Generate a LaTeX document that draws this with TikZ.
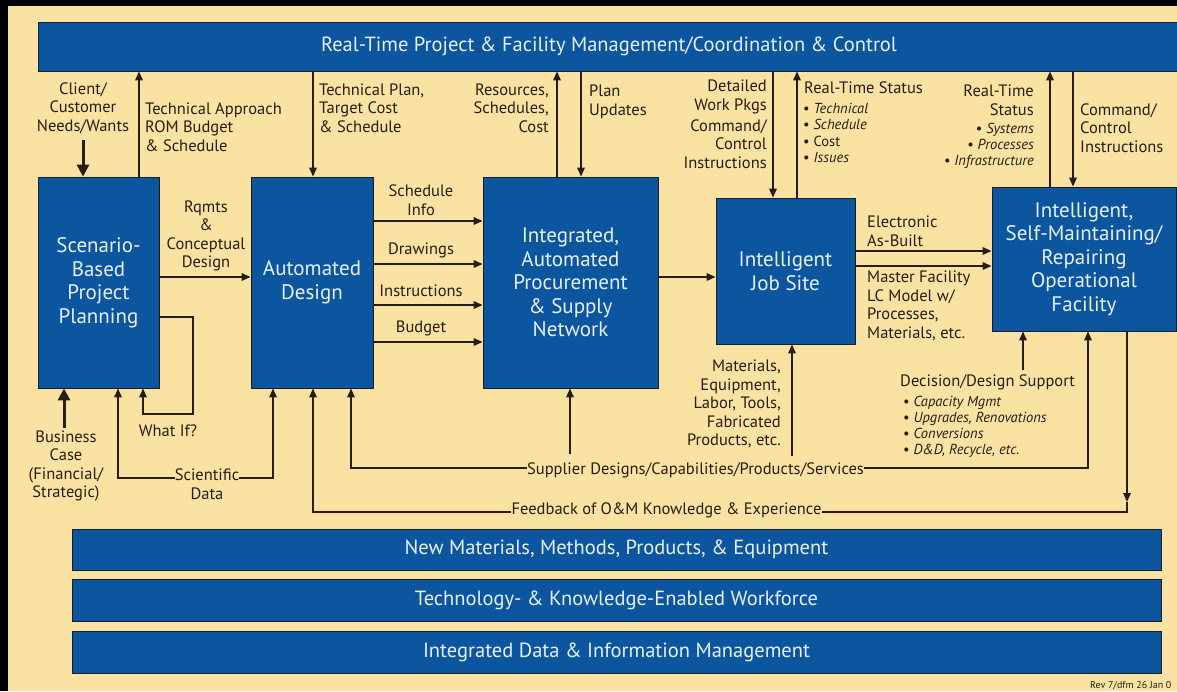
\documentclass[tikz,border=0pt]{standalone}
\usepackage{fontspec}
\setmainfont{PT Sans}
\usetikzlibrary{arrows.meta}
\definecolor{bg}{RGB}{250,226,162}
\definecolor{boxblue}{RGB}{12,86,160}
\definecolor{boxline}{RGB}{20,30,45}
\definecolor{boxtext}{RGB}{232,240,248}
\definecolor{ink}{RGB}{38,30,22}
\newcommand\mfBox{\fontsize{21}{23.5}\selectfont}
\newcommand\mfLbl{\fontsize{16.5}{18.6}\selectfont}
\newcommand\mfBul{\fontsize{14.5}{16.2}\selectfont}
\newcommand\mfBar{\fontsize{20.5}{23}\selectfont}
\newcommand\bul{\textbullet\ }
\tikzset{
  box/.style={draw=boxline, line width=0.8pt, fill=boxblue, text=boxtext, inner sep=0pt, align=center, font=\mfBox},
  bar/.style={box, font=\mfBar},
  lbl/.style={text=ink, inner sep=0pt, font=\mfLbl},
  bl/.style={text=ink, inner sep=0pt, font=\mfBul},
  conn/.style={draw=ink, line width=1.7pt},
  arr/.style={conn, -{Triangle[length=9pt,width=7.5pt]}},
  thickarr/.style={draw=ink, line width=3pt, -{Triangle[length=12pt,width=12pt]}},
}
\begin{document}
\begin{tikzpicture}[x=1pt,y=-1pt]
\useasboundingbox (0,0) rectangle (1177,691);
\fill[black] (0,0) rectangle (1177,691);
\fill[bg] (8,6) rectangle (1177,691);

% main boxes
\node[bar, minimum width=1142, minimum height=49] (top) at (609,46.5) {Real-Time Project \& Facility Management/Coordination \& Control};
\node[box, minimum width=121, minimum height=211] (b1) at (98.5,282.5) {Scenario-\\Based\\Project\\Planning};
\node[box, minimum width=122, minimum height=211] (b2) at (312,282.5) {Automated\\Design};
\node[box, minimum width=175, minimum height=211] (b3) at (570.5,282.5) {Integrated,\\Automated\\Procurement\\\& Supply\\Network};
\node[box, minimum width=139, minimum height=146] (b4) at (785.5,271) {Intelligent\\Job Site};
\node[box, minimum width=184, minimum height=144] (b5) at (1084,259) {Intelligent,\\Self-Maintaining/\\Repairing\\Operational\\Facility};
\node[bar, minimum width=1089, minimum height=41] (n1) at (616.5,549.5) {New Materials, Methods, Products, \& Equipment};
\node[bar, minimum width=1089, minimum height=42] (n2) at (616.5,600) {Technology- \& Knowledge-Enabled Workforce};
\node[bar, minimum width=1089, minimum height=42] (n3) at (616.5,652) {Integrated Data \& Information Management};

% labels
\node[lbl, align=center] (client) at (83,108) {Client/\\Customer\\Needs/Wants};
\node[lbl, align=left, anchor=west] (ta) at (145,127) {Technical Approach\\ROM Budget\\\& Schedule};
\node[lbl, align=left, anchor=west] (tp) at (319,108) {Technical Plan,\\Target Cost\\\& Schedule};
\node[lbl, align=right, anchor=east] (res) at (549,108) {Resources,\\Schedules,\\Cost};
\node[lbl, align=left, anchor=west] (pu) at (589,102) {Plan\\Updates};
\node[lbl, align=right, anchor=east] (dw) at (767,97) {Detailed\\Work Pkgs};
\node[lbl, align=right, anchor=east] (cc1) at (767,144) {Command/\\Control\ \\Instructions};
\node[lbl, anchor=west] (rts1) at (804,88) {Real-Time Status};
\node[bl, align=left, anchor=west] (rts1b) at (803,133) {\bul\textit{Technical}\\\bul\textit{Schedule}\\\bul Cost\\\bul\textit{Issues}};
\node[lbl, align=right, anchor=east] (rts2) at (1034,100) {Real-Time\\Status};
\node[bl, align=right, anchor=east] (rts2b) at (1034,146) {\bul\textit{Systems}\\\bul\textit{Processes}\\\bul\textit{Infrastructure}};
\node[lbl, align=left, anchor=west] (cc2) at (1080,128) {Command/\\Control\\Instructions};
\node[lbl, align=center] (rq) at (206,236) {Rqmts\\\&\\Conceptual\\Design};
\node[lbl, align=center] (si) at (421,200) {Schedule\\Info};
\node[lbl] (dr) at (421,250) {Drawings};
\node[lbl] (ins) at (421,291) {Instructions};
\node[lbl] (bud) at (421,328) {Budget};
\node[lbl, align=left, anchor=west] (eab) at (867,231) {Electronic\\As-Built};
\node[lbl, align=left, anchor=west] (mf) at (867,306) {Master Facility\\LC Model w/\\Processes,\\Materials, etc.};
\node[lbl, anchor=west] (dec) at (900,382) {Decision/Design Support};
\node[bl, align=left, anchor=west] (decb) at (903,427) {\bul\textit{Capacity Mgmt}\\\bul\textit{Upgrades, Renovations}\\\bul\textit{Conversions}\\\bul\textit{D\&D, Recycle, etc.}};
\node[lbl, align=right, anchor=east] (mat) at (781,404) {Materials,\\Equipment,\\Labor, Tools,\\Fabricated\\Products, etc.};
\node[lbl] (sup) at (695.5,470) {Supplier Designs/Capabilities/Products/Services};
\node[lbl] (fb) at (666.5,510) {Feedback of O\&M Knowledge \& Experience};
\node[lbl, align=center] (sci) at (207,484) {Scientific\\Data};
\node[lbl] (wi) at (168,431) {What If?};
\node[lbl, align=center] (bc) at (66,466) {Business\\Case\\(Financial/\\Strategic)};
\node[text=ink, inner sep=0pt, font=\fontsize{10}{11}\selectfont, anchor=west] (rev) at (1090,686) {Rev 7/dfm 26 Jan 0};

% reference coordinates
\coordinate (x83) at (83,0);
\coordinate (x139) at (139,0);
\coordinate (x313) at (313,0);
\coordinate (x557) at (557,0);
\coordinate (x581) at (581,0);
\coordinate (x773) at (773,0);
\coordinate (x797) at (797,0);
\coordinate (x1050) at (1050,0);
\coordinate (x1073) at (1073,0);
\coordinate (y277) at (0,277);
\coordinate (y221) at (0,221);
\coordinate (y264) at (0,264);
\coordinate (y305) at (0,305);
\coordinate (y342) at (0,342);
\coordinate (y251) at (0,251);
\coordinate (y266) at (0,266);
\coordinate (x64) at (64,0);
\coordinate (wiA) at (0,317);
\coordinate (wiB) at (193,414);
\coordinate (x143) at (143,0);
\coordinate (sciY) at (0,478);
\coordinate (x118) at (118,0);
\coordinate (x273) at (273,0);
\coordinate (supY) at (0,468);
\coordinate (x351) at (351,0);
\coordinate (x1088) at (1088,0);
\coordinate (b570) at (570,454);
\coordinate (b792) at (792,456);
\coordinate (x1023) at (1023,0);
\coordinate (fbTip) at (1127,502);
\coordinate (fbCorner) at (1127,512);

% arrows to/from top bar
\draw[thickarr] (client.south -| x83) ++(0,6) -- (b1.north -| x83);
\draw[arr] (b1.north -| x139) -- (top.south -| x139);
\draw[arr] (top.south -| x313) -- (b2.north -| x313);
\draw[arr] (b3.north -| x557) -- (top.south -| x557);
\draw[arr] (top.south -| x581) -- (b3.north -| x581);
\draw[arr] (top.south -| x773) -- (b4.north -| x773);
\draw[arr] (b4.north -| x797) -- (top.south -| x797);
\draw[arr] (b5.north -| x1050) -- (top.south -| x1050);
\draw[arr] (top.south -| x1073) -- (b5.north -| x1073);

% horizontal flows
\draw[arr] (b1.east |- y277) -- (b2.west |- y277);
\draw[arr] (b2.east |- y221) -- (b3.west |- y221);
\draw[arr] (b2.east |- y264) -- (b3.west |- y264);
\draw[arr] (b2.east |- y305) -- (b3.west |- y305);
\draw[arr] (b2.east |- y342) -- (b3.west |- y342);
\draw[arr] (b3.east |- y277) -- (b4.west |- y277);
\draw[arr] (b4.east |- y251) -- (b5.west |- y251);
\draw[arr] (b4.east |- y266) -- (b5.west |- y266);

% bottom inputs
\draw[thickarr] (bc.north -| x64) ++(0,-2) -- (b1.south -| x64);
\draw[arr] (b1.east |- wiA) -| (wiB) -| (b1.south -| x143);
\draw[arr] (sci.west |- sciY) -| (b1.south -| x118);
\draw[arr] (sci.east |- sciY) -| (b2.south -| x273);
\draw[arr] (sup.west |- supY) -| (b2.south -| x351);
\draw[arr] (sup.east |- supY) -| (b5.south -| x1088);
\draw[arr] (b570) -- (b3.south -| b570);
\draw[arr] (b792) -- (b4.south -| b792);
\draw[arr] (dec.north -| x1023) ++(0,-4) -- (b5.south -| x1023);
\draw[arr] (b5.south -| fbTip) -- (fbTip);
\draw[conn] (fbTip) -- (fbCorner) -- (fb.east |- fbCorner);
\draw[arr] (fb.west |- fbCorner) -| (b2.south -| x313);
\end{tikzpicture}
\end{document}
